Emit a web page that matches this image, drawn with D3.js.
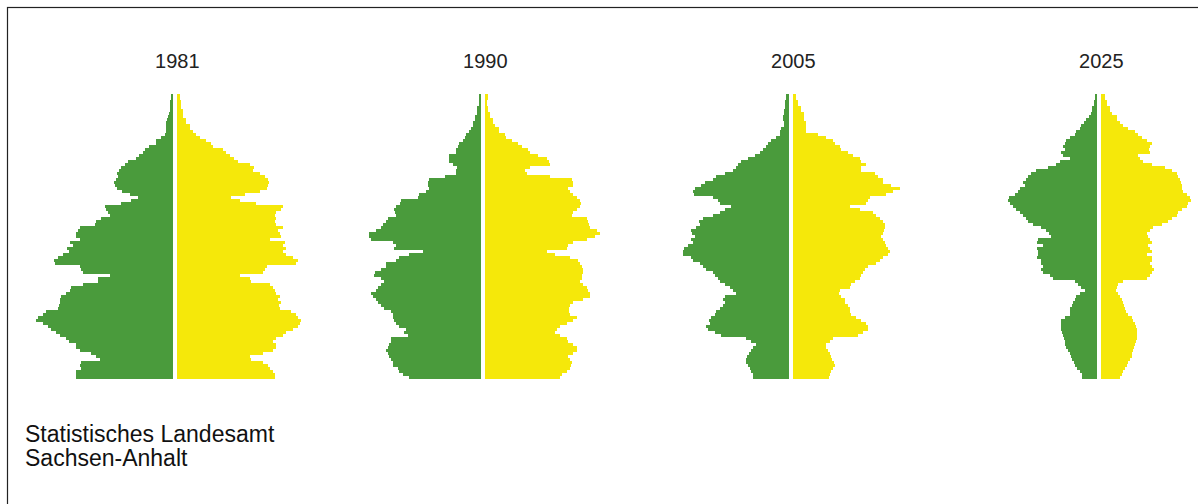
<!DOCTYPE html>
<html>
<head>
<meta charset="utf-8">
<script src="https://cdn.jsdelivr.net/npm/d3@7"></script>
<style>
  body { margin: 0; background: #fff; }
  text { font-family: Arial, "Liberation Sans", sans-serif; }
</style>
</head>
<body>
<div id="chart"></div>
<script>
const WIDTH = 1198;
const HEIGHT = 504;
const GREEN = "#4a9b3c";
const YELLOW = "#f5e80a";

const years = ["1981", "1990", "2005", "2025"];

// one value per age year, oldest row (top) first, age 0 last
const male1981 = [2,2,3,3,3,3,4,5,6,7, 7,7,7,8,12,17,17,24,28,30, 34,37,45,48,52,54,56,55,57,59,
  58,56,51,43,35,42,52,68,67,65, 63,72,77,78,93,95,97,97,93,103, 100,106,104,110,115,119,118,93,92,90,
  63,75,75,90,102,103,107,112,113,113, 114,115,127,130,135,137,130,125,122,117, 113,107,104,97,97,93,82,77,73,92,
  93,92,97,97,97];
const female1981 = [3,3,4,4,4,6,6,6,9,9, 13,13,16,19,23,29,34,36,46,49, 53,57,61,73,77,76,83,88,91,92,
  91,90,83,68,54,63,79,106,104,99, 98,99,98,99,106,101,103,104,93,108, 106,109,106,109,116,121,119,90,88,86,
  63,73,74,93,96,98,99,103,101,104, 102,103,114,119,121,124,123,121,116,109, 106,99,96,99,99,96,86,73,74,86,
  91,93,96,98,98];

const male1990 = [2,2,2,2,4,4,4,6,6,8, 8,10,12,15,16,18,22,23,25,25, 32,32,32,28,24,25,25,36,52,53,
  53,52,55,62,63,80,81,85,87,86, 85,93,95,98,100,105,112,112,110,88, 85,87,58,72,82,85,95,95,100,106,
  107,100,97,100,103,105,110,108,105,103, 100,97,90,88,88,87,85,82,75,77, 73,90,90,92,93,95,93,92,90,88,
  88,83,82,78,72];
const female1990 = [3,3,2,2,3,3,5,5,8,8, 10,14,14,20,21,27,33,37,43,45, 53,62,64,65,45,40,42,65,87,88,
  88,83,85,88,92,95,96,95,92,88, 87,102,103,104,105,112,115,110,102,88, 83,82,62,70,85,93,95,97,98,98,
  97,97,95,98,102,103,105,105,98,88, 85,84,84,85,92,88,82,75,72,70, 75,82,83,88,92,92,88,83,85,87,
  86,85,82,77,75];

const male2005 = [3,3,4,4,4,5,5,6,6,5, 5,8,9,9,13,18,21,23,26,29, 34,41,48,51,53,56,64,73,76,84,
  88,94,96,95,76,71,69,58,64,69, 76,86,90,89,93,98,97,94,98,96, 101,105,106,106,98,96,89,86,83,76,
  74,71,69,64,59,56,53,64,66,64, 66,69,73,74,78,80,79,83,81,74, 68,43,38,33,36,38,40,42,43,43,
  41,39,38,36,36];
const female2005 = [3,3,5,5,8,8,11,11,11,13, 13,13,13,25,33,40,42,47,48,55, 60,67,68,73,68,68,82,85,90,90,
  98,107,100,93,77,75,73,57,67,80, 83,87,90,92,92,91,90,88,90,92, 93,95,97,95,90,87,83,75,72,70,
  68,67,62,58,57,47,46,48,52,52, 55,57,57,58,63,68,73,75,75,70, 65,40,37,33,33,35,37,38,39,41,
  42,40,38,37,36];

const male2025 = [2,2,3,3,5,5,6,8,11,13, 16,17,21,22,27,31,32,34,32,36, 34,27,37,41,49,61,66,69,71,74,
  72,77,79,82,88,89,87,84,81,77, 74,71,69,64,56,51,48,46,59,60, 54,60,59,59,60,56,56,54,56,54,
  47,44,22,19,16,12,17,21,22,24, 25,27,27,27,32,36,36,36,36,35, 34,33,32,32,31,29,27,26,25,23,
  22,20,17,15,15];
const female2025 = [4,4,6,6,9,9,11,16,16,19, 22,27,34,37,41,46,51,49,48,49, 37,39,42,51,64,71,76,77,79,80,
  81,81,82,86,89,90,87,86,81,77, 76,71,67,61,52,49,46,47,49,51, 47,49,51,46,51,51,49,51,53,51,
  49,46,22,17,16,15,17,19,21,22, 23,24,25,27,31,32,34,35,36,36, 36,36,35,34,33,32,31,31,29,27,
  26,24,22,21,19];

const maleData = [male1981, male1990, male2005, male2025];
const femaleData = [female1981, female1990, female2005, female2025];
const sourceLines = ["Statistisches Landesamt", "Sachsen-Anhalt"];

const ages = d3.range(94, -1, -1);
const GAP = 2;

const chart = d3.select("#chart").append("svg")
    .attr("width", WIDTH)
    .attr("height", HEIGHT);

// frame (right and bottom edges lie outside the picture)
chart.append("rect")
    .attr("x", 7.5)
    .attr("y", 7.5)
    .attr("width", WIDTH + 20)
    .attr("height", HEIGHT + 20)
    .attr("fill", "none")
    .attr("stroke", "#222")
    .attr("stroke-width", 1.2);

const yScale = d3.scaleBand().domain(ages).range([94, 379]);
const xScale = d3.scaleLinear().domain([0, 150]).range([0, 150]);
const centerScale = d3.scalePoint().domain(years).range([175.3, 1099.3]);

years.forEach((year, k) => {
    const cx = centerScale(year);
    const g = chart.append("g").attr("shape-rendering", "crispEdges");

    g.selectAll("rect.m")
        .data(maleData[k])
        .enter()
        .append("rect")
        .attr("class", "m")
        .attr("x", d => cx - GAP - xScale(d))
        .attr("y", (d, i) => yScale(ages[i]))
        .attr("width", d => xScale(d))
        .attr("height", yScale.bandwidth())
        .attr("fill", GREEN);

    g.selectAll("rect.f")
        .data(femaleData[k])
        .enter()
        .append("rect")
        .attr("class", "f")
        .attr("x", cx + GAP)
        .attr("y", (d, i) => yScale(ages[i]))
        .attr("width", d => xScale(d))
        .attr("height", yScale.bandwidth())
        .attr("fill", YELLOW);

    // year title
    chart.append("text")
        .attr("x", cx + 2)
        .attr("y", 68)
        .attr("text-anchor", "middle")
        .attr("font-size", "20px")
        .attr("fill", "#222")
        .text(year);
});

// source note
chart.append("g").selectAll("text")
    .data(sourceLines)
    .enter()
    .append("text")
    .attr("x", 25)
    .attr("y", (d, i) => 442 + i * 24)
    .attr("font-size", "23px")
    .attr("fill", "#111")
    .text(d => d);
</script>
</body>
</html>
